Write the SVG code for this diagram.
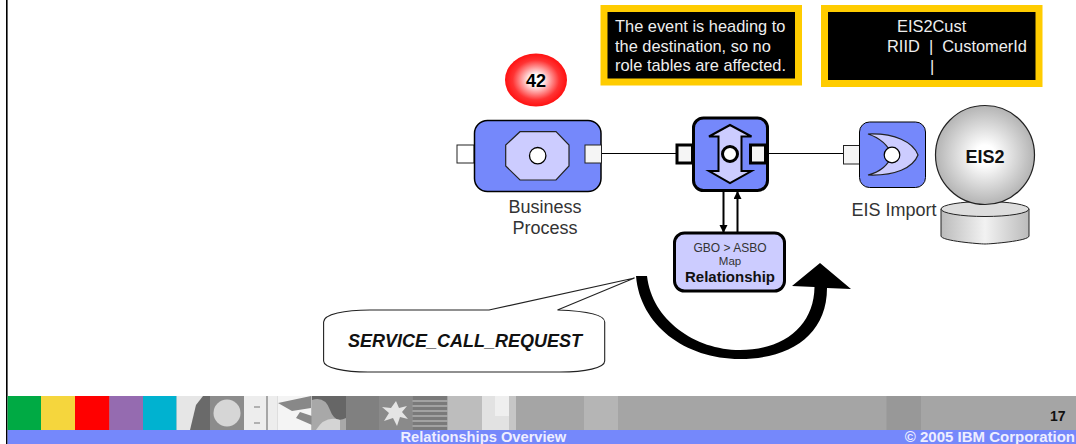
<svg xmlns="http://www.w3.org/2000/svg" width="1076" height="444" viewBox="0 0 1076 444">
<style>
text{font-family:"Liberation Sans",Arial,sans-serif}
.c{text-anchor:middle}
.lbl{font-size:18px;fill:#333}
.note{font-size:16.400px;fill:#eee}
.box{fill:#000;stroke:#fc0;stroke-width:7}
.blue{fill:#7588fb;stroke:#000}
.lav{fill:#ccf;stroke:#222;stroke-width:1.2}
.hole{fill:#fff;stroke:#000}
.line{fill:none;stroke:#000}
</style>
<defs>
<radialGradient id="red"><stop offset="0.2" stop-color="#fff"/><stop offset="0.75" stop-color="#f33"/><stop offset="1" stop-color="#f11"/></radialGradient>
<radialGradient id="grey"><stop offset="0.2" stop-color="#fff"/><stop offset="1" stop-color="#b4b4b4"/></radialGradient>
<linearGradient id="cyl"><stop offset="0" stop-color="#bbb"/><stop offset="0.5" stop-color="#f2f2f2"/><stop offset="1" stop-color="#bbb"/></linearGradient>
<marker id="ah" markerWidth="9" markerHeight="9" refX="7" refY="4" orient="auto" markerUnits="userSpaceOnUse"><path d="M0 0L8 4L0 8z" fill="#000"/></marker>
</defs>
<rect width="1076" height="444" fill="#fff"/>
<g id="footer">
<rect x="6" y="0" width="1.6" height="444" fill="#000"/>
<rect x="7.6" y="396" width="1068.4" height="34" fill="#a5a5a5"/>
<rect x="7.6" y="396" width="33.4" height="34" fill="#0a4"/>
<rect x="41" y="396" width="34" height="34" fill="#f5d63d"/>
<rect x="75" y="396" width="34.5" height="34" fill="#f00"/>
<rect x="109.5" y="396" width="33.5" height="34" fill="#956bb0"/>
<rect x="143" y="396" width="33.6" height="34" fill="#00b2d0"/>
<rect x="176.6" y="396" width="33.4" height="34" fill="#e6e6e6"/>
<path d="M190 430L196 405L203 396H210V430z" fill="#6a6a6a"/>
<rect x="210" y="396" width="34" height="34" fill="#8c8c8c"/>
<circle cx="227" cy="413" r="13.5" fill="#d6d6d6"/>
<rect x="244" y="396" width="33.5" height="34" fill="#ededed"/>
<path d="M267 396V430M254 407h6M254 423h6" stroke="#777" stroke-width="1.2"/>
<rect x="277.5" y="396" width="34" height="34" fill="#f4f4f4"/>
<path d="M278 403L311 396V408L292 411zM296 418L312 425V416L300 412z" fill="#888"/>
<rect x="311.5" y="396" width="34.5" height="34" fill="#a8a8a8"/>
<path d="M312 400Q325 396 330 410T346 418V396H312z" fill="#666"/>
<path d="M316 430Q325 415 340 420V430z" fill="#d4d4d4"/>
<rect x="346" y="396" width="33" height="34" fill="#808080"/>
<rect x="379" y="396" width="33.5" height="34" fill="#8a8a8a"/>
<path d="M396 401L399 408L407 406L402 412L408 419L400 417L397 426L393 418L384 421L389 413L382 407L391 408z" fill="#e4e4e4"/>
<rect x="412.5" y="396" width="35" height="34" fill="#7a7a7a"/>
<path d="M412.5 401h35M412.5 406h35M412.5 411h35M412.5 416h35M412.5 421h35M412.5 426h35" stroke="#b0b0b0" stroke-width="1.5"/>
<rect x="447.5" y="396" width="34.500" height="34" fill="#bdbdbd"/>
<rect x="482" y="396" width="34" height="34" fill="#e2e2e2"/>
<rect x="495" y="396" width="14" height="20" fill="#efefef"/>
<rect x="509" y="396" width="7" height="34" fill="#c6c6c6"/>
<rect x="584" y="396" width="34" height="34" fill="#b5b5b5"/>
<rect x="886.5" y="396" width="34.5" height="34" fill="#989898"/>
<rect x="7.6" y="430" width="1068.4" height="14" fill="#7588fb"/>
<text x="400.500" y="442" font-size="14.700" font-weight="bold" fill="#eef">Relationships Overview</text>
<text x="1075" y="442" font-size="15" font-weight="bold" fill="#eef" text-anchor="end">© 2005 IBM Corporation</text>
<text x="1050" y="421" font-size="14" font-weight="bold" fill="#111">17</text>
</g>
<g id="connectors">
<path class="line" d="M601 153.500H676" stroke="#444" stroke-width="1"/>
<path class="line" d="M765 153.500H843" stroke-width="1"/>
<path class="line" d="M723.500 191V232" stroke-width="2" marker-end="url(#ah)"/>
<path class="line" d="M737.500 232V192" stroke-width="2" marker-end="url(#ah)"/>
</g>
<g id="note-destination">
<rect class="box" x="604" y="8.500" width="194.500" height="73.500"/>
<text class="note" x="615" y="32">The event is heading to</text>
<text class="note" x="615" y="52">the destination, so no</text>
<text class="note" x="615" y="71">role tables are affected.</text>
</g>
<g id="note-table">
<rect class="box" x="824.500" y="8.500" width="214.500" height="75"/>
<text class="note" x="897" y="32">EIS2Cust</text>
<text class="note" x="887" y="52" xml:space="preserve">RIID  |  CustomerId</text>
<text class="note" x="930" y="72">|</text>
</g>
<g id="counter">
<ellipse cx="536" cy="80" rx="31" ry="26.500" fill="url(#red)"/>
<text class="c" x="536" y="87" font-size="18" font-weight="bold" fill="#000">42</text>
</g>
<g id="business-process">
<rect x="457" y="145" width="17" height="18" fill="#fff" stroke="#222"/>
<rect class="blue" x="474.500" y="120.500" width="126.500" height="71" rx="13" stroke-width="1.500"/>
<rect x="585" y="145" width="16.500" height="18" fill="#f5f5f5" stroke="#222"/>
<path class="lav" d="M520 131.700H556L569 145V166L556 180H520L505.700 166V145z"/>
<circle class="hole" cx="537.700" cy="155.700" r="8.200" stroke-width="1.300"/>
<text class="c lbl" x="545" y="213">Business</text>
<text class="c lbl" x="545" y="234">Process</text>
</g>
<g id="map">
<rect class="blue" x="693.500" y="118" width="74" height="72.500" rx="10" stroke-width="3"/>
<rect x="677" y="145" width="15.500" height="18" fill="#f5f5f5" stroke="#000" stroke-width="3"/>
<rect x="750.500" y="145" width="15" height="18" fill="#f5f5f5" stroke="#000" stroke-width="3"/>
<path class="lav" d="M730 125L751.500 136.500H741.500V171H751.500L730 183L709 171H718.500V136.500H709z" style="stroke:#000;stroke-width:2"/>
<circle class="hole" cx="730" cy="154" r="7.500" stroke-width="3"/>
</g>
<g id="eis-import">
<rect x="843.500" y="145.500" width="16.500" height="18.500" fill="#f5f5f5" stroke="#222"/>
<rect class="blue" x="859.500" y="122" width="66" height="65.500" rx="10"/>
<path class="lav" d="M868 134C895 133 913 142 918 155C913 168 895 176 868 175C880 172 888 166 892 155C888 145 880 138 868 134z"/>
<circle class="hole" cx="892" cy="155" r="7.800" stroke-width="1.200"/>
<text class="lbl" x="851.500" y="216">EIS Import</text>
</g>
<g id="eis2">
<path d="M941 209V236C941 241 980 244 985 244C990 244 1029 241 1029 236V209z" fill="url(#cyl)" stroke="#222"/>
<ellipse cx="985" cy="209" rx="44" ry="7.500" fill="#ddd" stroke="#222"/>
<circle cx="985" cy="155" r="49.500" fill="url(#grey)" stroke="#222" stroke-width="1.200"/>
<text class="c" x="985" y="163" font-size="18" font-weight="bold" fill="#111">EIS2</text>
</g>
<g id="relationship">
<rect x="674.500" y="233" width="110" height="58" rx="10" fill="#ccf" stroke="#000" stroke-width="3"/>
<text class="c" x="730" y="252" font-size="12" fill="#333">GBO &gt; ASBO</text>
<text class="c" x="730" y="265" font-size="11.500" fill="#333">Map</text>
<text class="c" x="730" y="282" font-size="15" font-weight="bold" fill="#111">Relationship</text>
</g>
<g id="flow-arrow">
<path d="M636 276C640 325 685 359 740 359C790 359 827 335 827 288L851 289L820 263L792 286L814.500 287C814 325 785 350 740 350C695 350 652 320 647 276z" fill="#000"/>
</g>
<g id="callout">
<path d="M489 310L634.500 278L557.500 310C585 311 604.700 314 604.700 322V361C604.700 368 585 372 560 372H368C345 372 323.600 368 323.600 361V322C323.600 314 345 310 370 310z" fill="#fff" stroke="#222" stroke-width="1.100"/>
<text x="348" y="347" font-size="18" font-weight="bold" font-style="italic" fill="#111">SERVICE_CALL_REQUEST</text>
</g>
</svg>
